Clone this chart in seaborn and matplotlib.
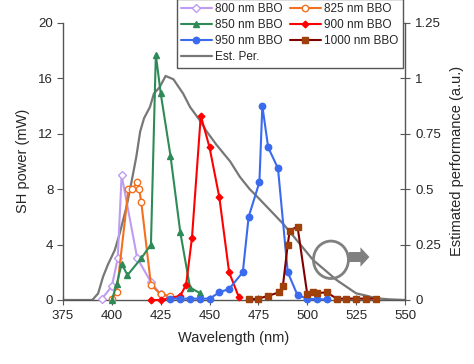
import pandas as pd
import matplotlib
matplotlib.use("Agg")
import matplotlib.pyplot as plt
import seaborn as sns
from matplotlib.patches import Ellipse, FancyArrow

# ---- data ----
wl_800 = [395, 400, 403, 405, 413, 420, 425, 430]
p_800 = [0.1, 1.0, 3.0, 9.0, 3.0, 1.3, 0.4, 0.2]

wl_825 = [400, 402.5, 408.5, 410.5, 413, 414, 415, 420, 425, 430]
p_825 = [0.1, 0.6, 8.0, 8.0, 8.5, 8.0, 7.1, 1.1, 0.4, 0.3]

wl_850 = [400, 402.5, 405, 408, 415, 420, 422.5, 425, 430, 435, 440, 445]
p_850 = [0.0, 1.15, 2.6, 1.8, 3.0, 4.0, 17.7, 14.9, 10.4, 4.9, 0.9, 0.5]

wl_900 = [420, 425, 435, 438, 441, 445.5, 450, 455, 460, 465]
p_900 = [0.0, 0.0, 0.3, 1.1, 4.5, 13.3, 11.0, 7.4, 2.0, 0.2]

wl_950 = [430, 435, 440, 445, 450, 455, 460, 467, 470, 475.5, 477, 480, 485,
          490, 495, 500, 505, 510]
p_950 = [0.1, 0.1, 0.1, 0.1, 0.1, 0.55, 0.8, 2.0, 6.0, 8.5, 14.0, 11.0, 9.5,
         2.0, 0.35, 0.1, 0.05, 0.05]

wl_1000 = [470, 475, 480, 485.5, 487.5, 490, 491, 495, 500, 503, 505, 510,
           515, 520, 525, 530, 535]
p_1000 = [0.05, 0.1, 0.3, 0.55, 1.0, 4.0, 5.0, 5.3, 0.4, 0.6, 0.5, 0.55,
          0.1, 0.1, 0.1, 0.1, 0.1]

wl_est = [375, 385, 390, 393, 395.5, 398, 401.5, 404, 407.5, 410, 412.5,
          414.5, 416.5, 419.5, 421.5, 424.5, 427.5, 431.5, 436.5, 440, 445,
          448.5, 453.5, 460.5, 465.5, 470.5, 475, 488, 503, 515, 525, 530,
          535, 542, 550]
est = [0, 0, 0, 0.03, 0.105, 0.16, 0.225, 0.30, 0.42, 0.53, 0.645,
       0.76, 0.82, 0.87, 0.93, 0.96, 1.01, 0.995, 0.93, 0.87, 0.81,
       0.76, 0.70, 0.625, 0.555, 0.50, 0.46, 0.34, 0.18, 0.09, 0.03, 0.02,
       0.008, 0.003, 0]

x_ticks = [375, 400, 425, 450, 475, 500, 525, 550]
left_ticks = [0, 4, 8, 12, 16, 20]
right_ticks = [0, 0.25, 0.5, 0.75, 1, 1.25]
right_labels = ["0", "0.25", "0.5", "0.75", "1", "1.25"]

sns.set_style("ticks")
plt.rcParams['font.family'] = ['Liberation Sans', 'DejaVu Sans']

fig = plt.figure(figsize=(4.74, 3.64), dpi=100)
ax = fig.add_axes([63 / 474, 1 - 300 / 364, 342 / 474, 277.3 / 364])
ax2 = ax.twinx()

series = [
    ("800 nm BBO", wl_800, p_800, "#BE9CF2", "D", "white", 3.8),
    ("825 nm BBO", wl_825, p_825, "#F2701E", "o", "white", 4.6),
    ("850 nm BBO", wl_850, p_850, "#2E8B57", "^", "#2E8B57", 5.0),
    ("900 nm BBO", wl_900, p_900, "#FF0000", "D", "#FF0000", 3.4),
    ("950 nm BBO", wl_950, p_950, "#3A6BEE", "o", "#3A6BEE", 4.6),
    ("1000 nm BBO", wl_1000, p_1000, "#800000", "s", "#A0400A", 4.4),
]

handles = {}
for name, xs, ys, col, mk, fc, ms in series:
    df = pd.DataFrame({"wl": xs, "p": ys})
    mec = "#A0400A" if name.startswith("1000") else col
    sns.lineplot(data=df, x="wl", y="p", ax=ax, color=col, marker=mk,
                 markersize=ms, markerfacecolor=fc, markeredgecolor=mec,
                 markeredgewidth=1.0, lw=1.5, sort=False, estimator=None,
                 label=name, clip_on=False, zorder=3)
    handles[name] = ax.get_lines()[-1]

df_est = pd.DataFrame({"wl": wl_est, "e": est})
sns.lineplot(data=df_est, x="wl", y="e", ax=ax2, color="#777777", lw=1.6,
             sort=False, estimator=None, label="Est. Per.")
handles["Est. Per."] = ax2.get_lines()[-1]
ax2.set_zorder(0)
ax.set_zorder(1)
ax.patch.set_visible(False)

if ax.get_legend():
    ax.get_legend().remove()
if ax2.get_legend():
    ax2.get_legend().remove()

ax.set_xlim(375, 550)
ax.set_ylim(0, 20)
ax2.set_ylim(0, 1.25)
ax.set_xticks(x_ticks)
ax.set_yticks(left_ticks)
ax2.set_yticks(right_ticks)
ax2.set_yticklabels(right_labels)

ax.set_xlabel("Wavelength (nm)", fontsize=10.5, labelpad=6)
ax.set_ylabel("SH power (mW)", fontsize=10.5, labelpad=6)
ax2.set_ylabel("Estimated performance (a.u.)", fontsize=10.5, labelpad=6)
ax2.set_xlabel("")

spine_col = "#555555"
for a in (ax, ax2):
    for s in a.spines.values():
        s.set_color(spine_col)
        s.set_linewidth(1.0)
    a.spines["top"].set_visible(False)
ax.spines["right"].set_visible(False)
ax2.spines["left"].set_visible(False)
ax2.spines["bottom"].set_visible(False)

ax.tick_params(axis="y", direction="out", length=4, color=spine_col,
               labelsize=9.5, pad=3)
ax.tick_params(axis="x", direction="inout", length=7, color=spine_col,
               labelsize=9.5, pad=4)
ax2.tick_params(axis="y", direction="inout", length=7, color=spine_col,
                labelsize=9.5, pad=4)

# circle + arrow pointing to the right axis
ax.add_patch(Ellipse((512.1, 2.9), 17.9, 2.7, fill=False, ec="#808080",
                     lw=2.0, zorder=4))
ax.add_patch(FancyArrow(521.2, 3.1, 6.0, 0, width=0.72, head_width=1.4,
                        head_length=4.6, length_includes_head=False,
                        color="#808080", lw=0, zorder=4))

order = ["800 nm BBO", "850 nm BBO", "950 nm BBO", "Est. Per.",
         "825 nm BBO", "900 nm BBO", "1000 nm BBO"]
leg = fig.legend([handles[k] for k in order], order, ncol=2,
                 loc="upper left", bbox_to_anchor=(177 / 474, 1.003),
                 bbox_transform=fig.transFigure, fontsize=8.5,
                 frameon=True, fancybox=False, framealpha=1,
                 edgecolor=spine_col, borderaxespad=0, handlelength=2.6,
                 handletextpad=0.3, columnspacing=0.6, labelspacing=0.35,
                 borderpad=0.35)
leg.get_frame().set_linewidth(1.0)
leg.set_zorder(10)

fig.savefig("out.png", dpi=100)
